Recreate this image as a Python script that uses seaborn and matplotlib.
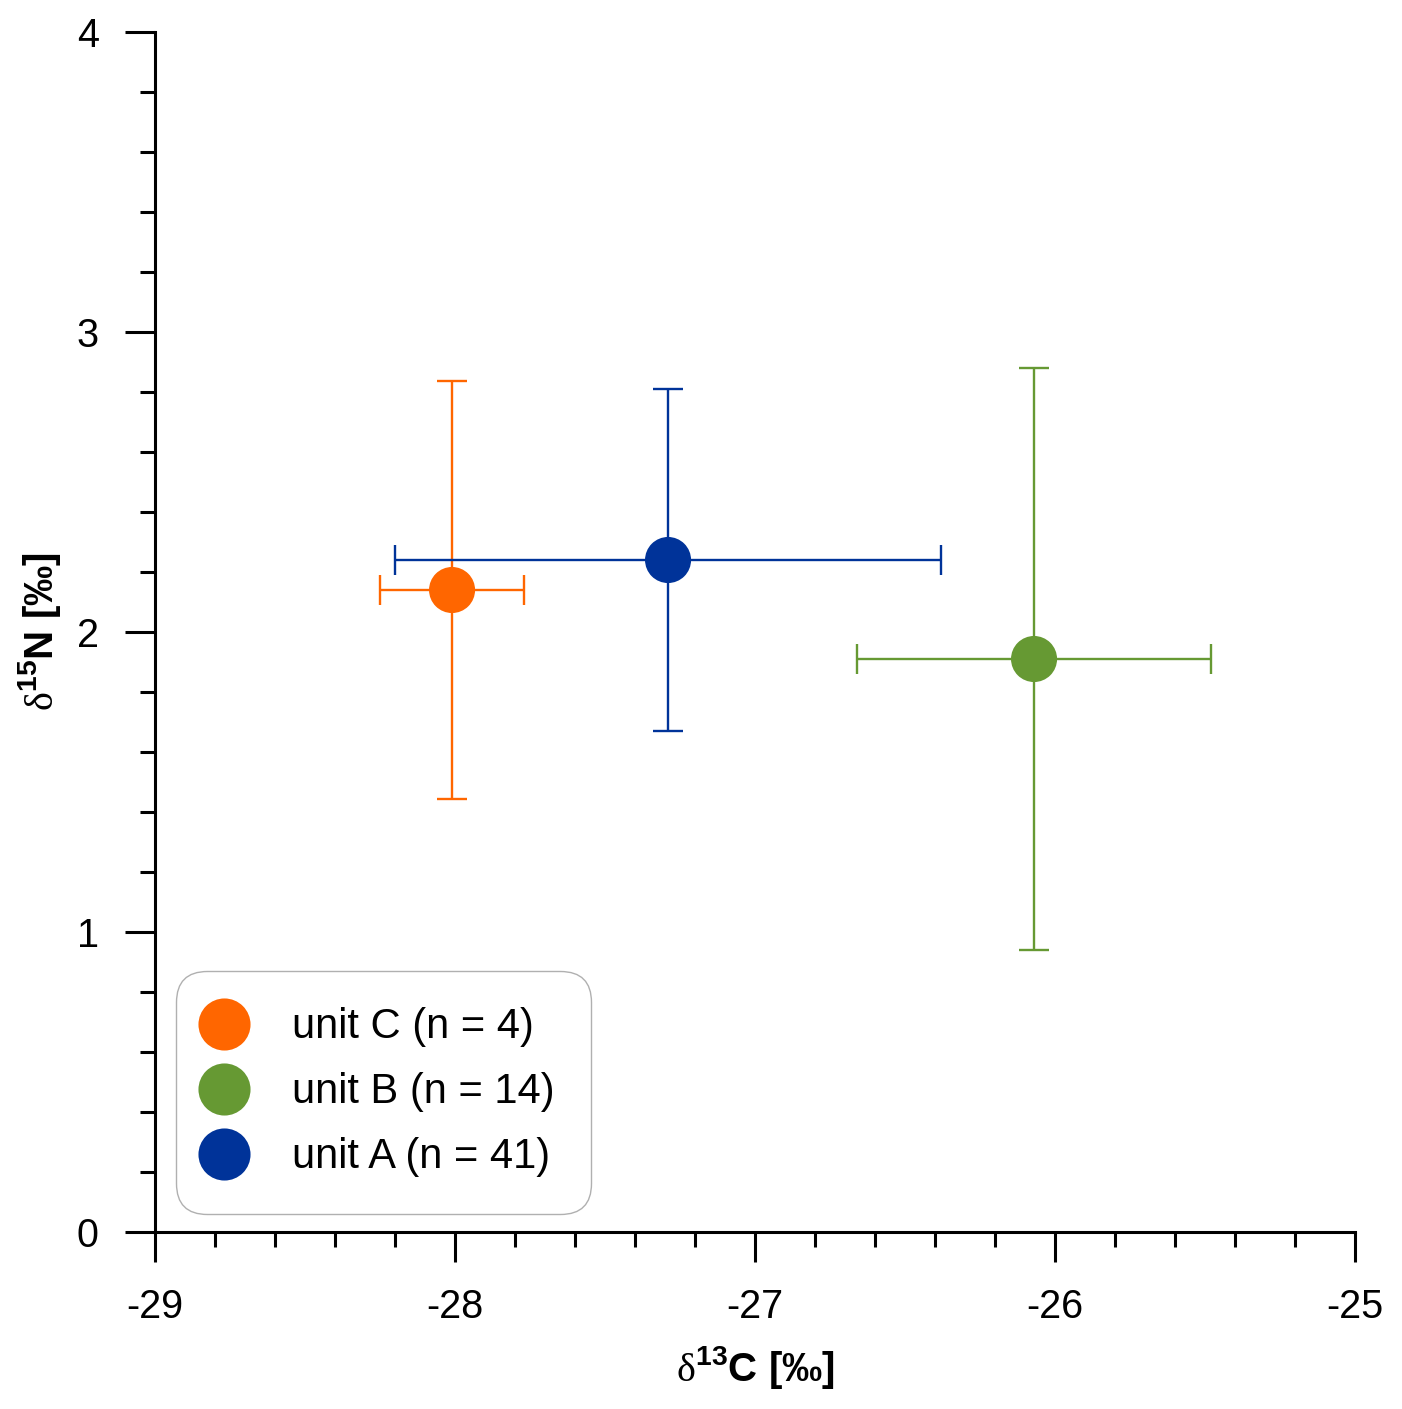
import matplotlib
matplotlib.use("Agg")
import matplotlib.pyplot as plt
import seaborn as sns
import pandas as pd
from matplotlib.lines import Line2D
from matplotlib.ticker import MultipleLocator

# mean isotope values per unit with standard deviations
units = ["unit C", "unit B", "unit A"]
counts = [4, 14, 41]
d13c = [-28.01, -26.07, -27.29]
d15n = [2.14, 1.91, 2.24]
d13c_sd = [0.24, 0.59, 0.91]
d15n_sd = [0.695, 0.97, 0.57]
colors = ["#FF6600", "#669933", "#003399"]

df = pd.DataFrame({"unit": units, "n": counts, "d13C": d13c, "d15N": d15n,
                   "sd13C": d13c_sd, "sd15N": d15n_sd})
palette = dict(zip(units, colors))

sns.set_style("ticks")
plt.rcParams["font.family"] = ["Liberation Sans", "DejaVu Sans"]
plt.rcParams["mathtext.fontset"] = "custom"
plt.rcParams["mathtext.rm"] = "Liberation Serif"
plt.rcParams["mathtext.bf"] = "Liberation Sans:bold"
for key in ["text.color", "axes.labelcolor", "xtick.color", "ytick.color",
            "axes.edgecolor"]:
    plt.rcParams[key] = "black"

fig = plt.figure(figsize=(14.02, 14.09), dpi=100)
ax = fig.add_axes([0.1106, 0.1256, 0.8559, 0.8517])

for _, row in df.iterrows():
    ax.errorbar(row["d13C"], row["d15N"], xerr=row["sd13C"], yerr=row["sd15N"],
                fmt="none", ecolor=palette[row["unit"]], elinewidth=1.7,
                capsize=11, capthick=1.7, zorder=2)

sns.scatterplot(data=df, x="d13C", y="d15N", hue="unit", palette=palette,
                s=1100, linewidth=0, legend=False, ax=ax, zorder=3)

ax.set_xlim(-29, -25)
ax.set_ylim(0, 4)
ax.xaxis.set_major_locator(MultipleLocator(1))
ax.xaxis.set_minor_locator(MultipleLocator(0.2))
ax.yaxis.set_major_locator(MultipleLocator(1))
ax.yaxis.set_minor_locator(MultipleLocator(0.2))
ax.set_xticklabels([f"{int(v)}" for v in ax.get_xticks()])

ax.tick_params(which="major", direction="out", length=21.6, width=2.2,
               labelsize=28.5, pad=19)
ax.tick_params(which="minor", direction="out", length=10.8, width=2.2)
for side in ["top", "right"]:
    ax.spines[side].set_visible(False)
for side in ["left", "bottom"]:
    ax.spines[side].set_linewidth(2.2)

ax.set_xlabel(r"$\mathrm{\delta}^{\mathbf{13}}$C [‰]", fontsize=29,
              fontweight="bold", labelpad=13)
ax.set_ylabel(r"$\mathrm{\delta}^{\mathbf{15}}$N [‰]", fontsize=29,
              fontweight="bold", labelpad=10)

handles = [Line2D([0], [0], marker="o", linestyle="none", markersize=37.5,
                  markerfacecolor=palette[u], markeredgewidth=0,
                  label=f"{u} (n = {n})")
           for u, n in zip(units, counts)]
leg = ax.legend(handles=handles, loc="lower left", bbox_to_anchor=(0.0175, 0.015),
                fontsize=30, frameon=True, fancybox=True, edgecolor="#b0b0b0",
                framealpha=1, handlelength=0.55, handletextpad=1.35,
                labelspacing=0.6, borderpad=0.88, borderaxespad=0)
leg.get_frame().set_linewidth(1.0)
leg.get_frame().set_boxstyle("round,pad=0,rounding_size=0.75")

plt.savefig("out.png", dpi=100)
plt.close(fig)
